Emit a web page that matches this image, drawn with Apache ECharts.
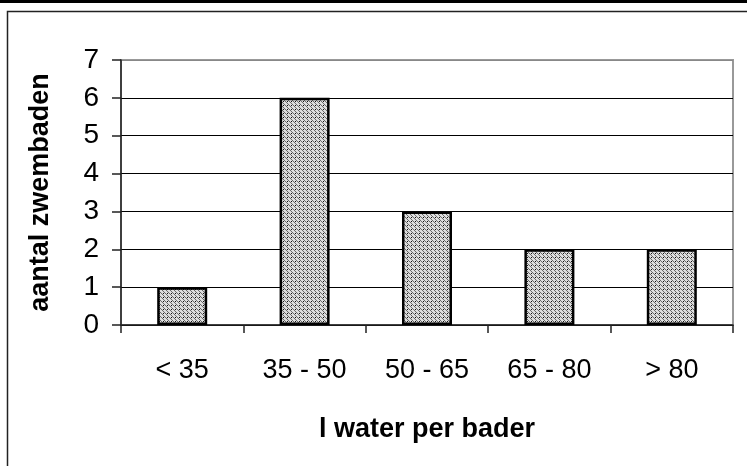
<!DOCTYPE html>
<html>
<head>
<meta charset="utf-8">
<script src="https://cdn.jsdelivr.net/npm/echarts@6/dist/echarts.min.js"></script>
<style>
html,body{margin:0;padding:0;background:#fff;}
#c{width:747px;height:466px;}
</style>
</head>
<body>
<div id="c"></div>
<script>
const categories = ['< 35', '35 - 50', '50 - 65', '65 - 80', '> 80'];
const values = [1, 6, 3, 2, 2];
const yMin = 0, yMax = 7, yStep = 1;
const xTitle = 'l water per bader';
const yTitle = 'aantal zwembaden';

function makePattern() {
  const c = document.createElement('canvas');
  c.width = 4; c.height = 4;
  const g = c.getContext('2d');
  g.fillStyle = '#dedede';
  g.fillRect(0, 0, 4, 4);
  g.fillStyle = '#6a6a6a';
  for (let i = 0; i < 4; i++) g.fillRect(i, i, 1, 1);
  g.fillStyle = '#111';
  g.fillRect(3, 1, 1, 1);
  return c;
}

const font = 'Liberation Sans, Arial, sans-serif';
const chart = echarts.init(document.getElementById('c'), null, {renderer: 'canvas'});
const splitColors = [];
for (let v = yMin; v <= yMax; v += yStep) splitColors.push(v === yMax ? '#888' : '#000');

chart.setOption({
  animation: false,
  backgroundColor: '#fff',
  graphic: [
    {type: 'rect', shape: {x: 0, y: 0, width: 747, height: 3}, style: {fill: '#000'}, z: 10},
    {type: 'rect', shape: {x: 7.5, y: 11.5, width: 800, height: 500}, style: {fill: 'none', stroke: '#222', lineWidth: 1.5}, z: 10}
  ],
  grid: {left: 121, right: 14, top: 60, bottom: 141, show: true, borderColor: '#999', borderWidth: 2, backgroundColor: 'transparent'},
  xAxis: {
    type: 'category',
    data: categories,
    axisLine: {lineStyle: {color: '#222', width: 1.5}},
    axisTick: {show: true, length: 8, lineStyle: {color: '#222', width: 1.5}},
    axisLabel: {color: '#000', fontSize: 27, fontFamily: font, margin: 32},
    name: xTitle,
    nameLocation: 'middle',
    nameGap: 91,
    nameTextStyle: {color: '#000', fontSize: 27, fontWeight: 'bold', fontFamily: font}
  },
  yAxis: {
    type: 'value',
    min: yMin, max: yMax, interval: yStep,
    axisLine: {show: true, lineStyle: {color: '#222', width: 1.5}},
    axisTick: {show: true, length: 9, lineStyle: {color: '#222', width: 1.5}},
    axisLabel: {color: '#000', fontSize: 28, fontFamily: font, margin: 22},
    splitLine: {show: true, lineStyle: {color: splitColors, width: 1.2}},
    name: yTitle,
    nameLocation: 'middle',
    nameRotate: 90,
    nameGap: 67,
    nameTextStyle: {color: '#000', fontSize: 27, fontWeight: 'bold', fontFamily: font}
  },
  series: [{
    type: 'bar',
    data: values,
    barWidth: 50,
    itemStyle: {color: {image: makePattern(), repeat: 'repeat'}, borderColor: '#000', borderWidth: 2.5}
  }]
});
</script>
</body>
</html>
